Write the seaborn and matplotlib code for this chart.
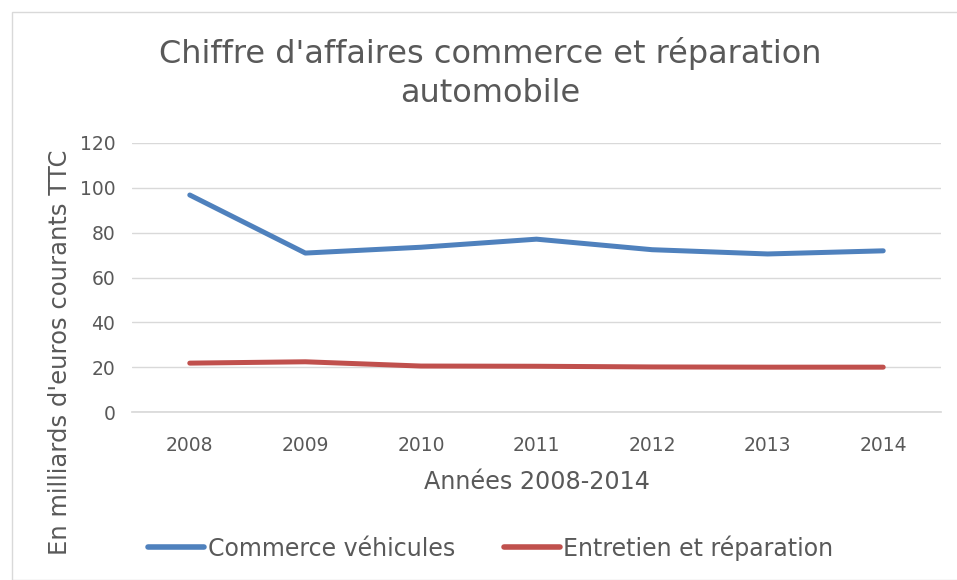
import matplotlib
matplotlib.use("Agg")
import matplotlib.pyplot as plt
import seaborn as sns
import pandas as pd
from matplotlib.patches import Rectangle

years = ["2008", "2009", "2010", "2011", "2012", "2013", "2014"]
commerce_vehicules = [96.8, 70.9, 73.5, 77.1, 72.4, 70.5, 71.9]
entretien_reparation = [21.8, 22.4, 20.5, 20.4, 20.1, 20.0, 20.0]
series_names = ["Commerce véhicules", "Entretien et réparation"]
y_ticks = [0, 20, 40, 60, 80, 100, 120]

df = pd.DataFrame({
    "Année": years * 2,
    "Valeur": commerce_vehicules + entretien_reparation,
    "Série": [series_names[0]] * len(years) + [series_names[1]] * len(years),
})

sns.set_theme(style="white")
plt.rcParams["font.family"] = ["DejaVu Sans"]
text_color = "#595959"

fig = plt.figure(figsize=(9.57, 5.8), dpi=100)
ax = fig.add_axes([132 / 957, 1 - 412 / 580, (941 - 132) / 957, (412 - 143) / 580])

sns.lineplot(data=df, x="Année", y="Valeur", hue="Série", sort=False,
             palette=["#4f81bd", "#c0504d"], linewidth=3.6, ax=ax,
             solid_capstyle="round", legend=True)

ax.set_xlim(-0.5, 6.5)
ax.set_ylim(0, 120)
ax.set_yticks(y_ticks)
ax.grid(axis="y", color="#d9d9d9", linewidth=1.0)
ax.set_axisbelow(True)
for s in ["top", "right", "left"]:
    ax.spines[s].set_visible(False)
ax.spines["bottom"].set_color("#d9d9d9")
ax.tick_params(axis="y", colors=text_color, labelsize=13.5, length=0, pad=12)
ax.tick_params(axis="x", colors=text_color, labelsize=13.5, length=0, pad=17)

ax.set_xlabel("Années 2008-2014", fontsize=17.2, color=text_color)
ax.xaxis.set_label_coords(0.5, -(482 - 412) / 269, transform=ax.transAxes)
ax.set_ylabel("En milliards d'euros courants TTC", fontsize=17.5, color=text_color)
ax.yaxis.set_label_coords(-(132 - 60) / 809, (412 - 352) / 269)
ax.yaxis.label.set_va("center")
ax.xaxis.label.set_va("center")

fig.text(490 / 957, 1 - 73 / 580, "Chiffre d'affaires commerce et réparation\nautomobile",
         ha="center", va="center", fontsize=23, color=text_color, linespacing=1.3)

handles, labels = ax.get_legend_handles_labels()
for h in handles:
    h.set_linewidth(4.0)
ax.legend(handles, labels, loc="center", bbox_to_anchor=(0.5 * (147 + 835) / 957, 1 - 548 / 580),
          bbox_transform=fig.transFigure, ncol=2, frameon=False, fontsize=17,
          labelcolor=text_color, handlelength=2.35, handletextpad=0.15, columnspacing=2.1)

fig.patches.append(Rectangle((12 / 957, 0), 1, 1 - 12 / 580, transform=fig.transFigure,
                             fill=False, edgecolor="#d9d9d9", linewidth=1.0))

fig.savefig("out.png", dpi=100, facecolor="white")
